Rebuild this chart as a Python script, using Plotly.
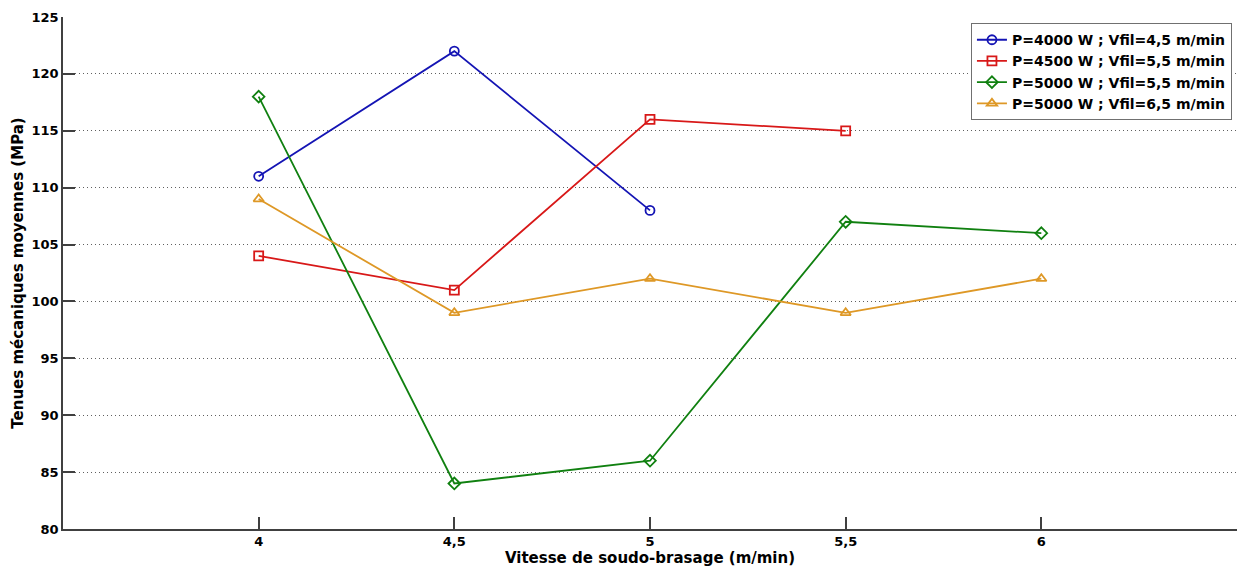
import plotly.graph_objects as go

x_blue = [4, 4.5, 5]
y_blue = [111, 122, 108]
x_red = [4, 4.5, 5, 5.5]
y_red = [104, 101, 116, 115]
x_green = [4, 4.5, 5, 5.5, 6]
y_green = [118, 84, 86, 107, 106]
x_orange = [4, 4.5, 5, 5.5, 6]
y_orange = [109, 99, 102, 99, 102]

names = ["P=4000 W ; Vfil=4,5 m/min", "P=4500 W ; Vfil=5,5 m/min",
         "P=5000 W ; Vfil=5,5 m/min", "P=5000 W ; Vfil=6,5 m/min"]

x_tickvals = [3.5, 4, 4.5, 5, 5.5, 6, 6.5]
x_ticktext = ["", "4", "4,5", "5", "5,5", "6", ""]
y_tickvals = [80, 85, 90, 95, 100, 105, 110, 115, 120, 125]

series = [
    (x_blue, y_blue, "#1414B4", "circle-open"),
    (x_red, y_red, "#D81818", "square-open"),
    (x_green, y_green, "#108010", "diamond-open"),
    (x_orange, y_orange, "#DE9826", "triangle-up-open"),
]

fig = go.Figure()
for (xs, ys, col, sym), nm in zip(series, names):
    fig.add_trace(go.Scatter(
        x=xs, y=ys, name="<b>" + nm + "</b>", mode="lines+markers",
        line=dict(color=col, width=1.8),
        marker=dict(symbol=sym, size=9, color=col, line=dict(width=1.8, color=col)),
    ))

font_family = "DejaVu Sans, Verdana, sans-serif"
tick_font = dict(family=font_family, size=13, color="black")
title_font = dict(family=font_family, size=15, color="black")
fig.update_layout(
    width=1239, height=571,
    margin=dict(l=63, r=2, t=17, b=42),
    plot_bgcolor="white", paper_bgcolor="white",
    font=dict(family=font_family, size=14, color="black"),
    showlegend=True,
    legend=dict(
        x=0.9957, y=0.988, xanchor="right", yanchor="top",
        bordercolor="#707070", borderwidth=1, bgcolor="white",
        font=dict(family=font_family, size=14, color="black"),
        tracegroupgap=0, itemwidth=30,
    ),
    xaxis=dict(
        range=[3.5, 6.5], tickvals=x_tickvals,
        ticktext=["<b>" + t + "</b>" for t in x_ticktext],
        showgrid=False, zeroline=False,
        showline=True, linecolor="#404040", linewidth=1.5,
        ticks="inside", ticklen=12, tickcolor="#404040", tickwidth=1.5,
        tickfont=tick_font,
        title=dict(text="<b>Vitesse de soudo-brasage (m/min)</b>", standoff=2,
                   font=title_font),
    ),
    yaxis=dict(
        range=[80, 125], tickvals=y_tickvals,
        ticktext=["<b>" + str(v) + "</b>" for v in y_tickvals],
        showgrid=True, gridcolor="#606060", griddash="1px,3px", gridwidth=1,
        zeroline=False,
        showline=True, linecolor="#404040", linewidth=1.5,
        ticks="inside", ticklen=12, tickcolor="#404040", tickwidth=1.5,
        tickfont=tick_font,
        title=dict(text="<b>Tenues mécaniques moyennes (MPa)</b>", standoff=4,
                   font=title_font),
    ),
)

fig.write_html("out.html", config={"displayModeBar": False},
               post_script="document.body.style.margin='0';")
